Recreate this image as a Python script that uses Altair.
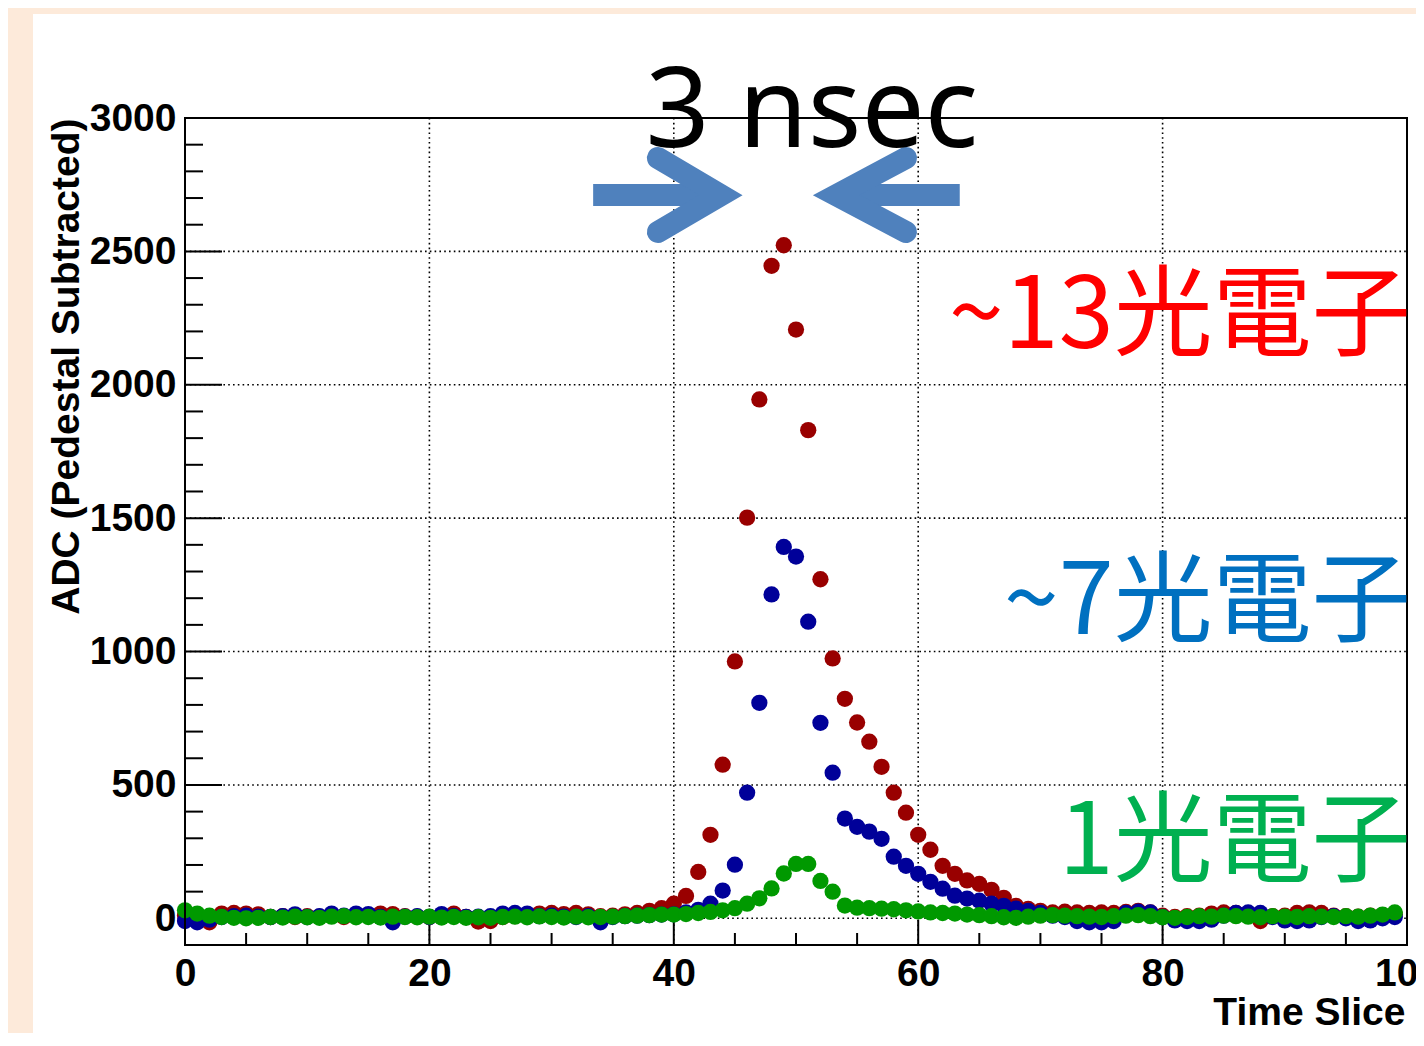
import altair as alt
import pandas as pd

# ---------------- data ----------------
time_slice = list(range(100))

red_adc = [10, 5, -15, 18, 20, 18, 15, 5, 8, 5,
           8, 6, 10, 5, 12, 10, 18, 16, 8, 6,
           5, 8, 18, 5, -12, -10, 5, 8, 10, 18,
           20, 16, 20, 15, 8, 10, 15, 20, 28, 38,
           55, 84, 174, 313, 576, 963, 1502, 1945, 2446, 2523,
           2207, 1830, 1271, 974, 823, 734, 662, 568, 471, 396,
           313, 257, 197, 167, 142, 129, 107, 77, 47, 35,
           28, 22, 25, 22, 20, 22, 20, 24, 28, 22,
           10, 5, 8, 10, 18, 22, 20, 12, -10, 8,
           10, 20, 22, 20, 10, 8, 6, 10, 12, 15]

blue_adc = [-10, -15, -5, 5, 8, 10, 6, 5, 8, 15,
            5, 8, 18, 10, 18, 16, 5, -15, 6, 8,
            5, 16, 8, 5, 6, 8, 18, 20, 18, 8,
            10, 6, 5, 8, -15, 5, 8, 10, 12, 14,
            15, 22, 32, 55, 104, 201, 471, 808, 1214, 1392,
            1356, 1112, 733, 546, 374, 343, 325, 298, 231, 197,
            167, 137, 111, 85, 74, 66, 55, 47, 36, 28,
            20, 10, 5, -10, -15, -15, -10, 20, 25, 22,
            5, -8, -10, -10, -5, 10, 20, 22, 20, 5,
            -8, -10, -8, 5, 8, 0, -10, -8, 0, 5]

green_adc = [30, 18, 10, 5, 2, 0, 2, 5, 3, 6,
             4, 2, 6, 8, 4, 5, 3, 6, 5, 4,
             6, 3, 5, 2, 4, 2, 5, 6, 4, 7,
             5, 3, 6, 4, 5, 6, 8, 10, 12, 14,
             14, 16, 20, 24, 30, 38, 55, 75, 112, 168,
             204, 204, 140, 100, 48, 40, 38, 36, 34, 30,
             26, 22, 20, 18, 14, 12, 8, 4, 2, 6,
             10, 12, 10, 8, 6, 5, 8, 10, 12, 8,
             4, 2, 5, 8, 6, 10, 8, 6, 4, 8,
             6, 5, 8, 6, 5, 8, 6, 10, 14, 22]

x_major_ticks = [0, 20, 40, 60, 80, 100]
x_minor_ticks = [v for v in range(0, 101, 5) if v % 20 != 0]
y_major_ticks = [0, 500, 1000, 1500, 2000, 2500, 3000]
y_minor_ticks = [v for v in range(0, 3001, 100) if v % 500 != 0]
x_grid = [20, 40, 60, 80]
y_grid = [0, 500, 1000, 1500, 2000, 2500]

labels_text = ["~13光電子", "~7光電子", "1光電子"]
labels_y = [2136, 1067, 167]
labels_color = ["#FF0000", "#0070C0", "#00B050"]

title_text = "3 nsec"

# arrows (data coordinates)
arrow_shaft_x = [33.4, 43.0, 63.4, 54.0]
arrow_shaft_y = [2711, 2711, 2711, 2711]
arrow_shaft_id = ["r", "r", "l", "l"]
arrow_head_x = [38.7, 43.85, 38.7, 59.0, 53.3, 59.0]
arrow_head_y = [2850, 2711, 2573, 2850, 2711, 2573]
arrow_head_id = ["r", "r", "r", "l", "l", "l"]

# ---------------- layout ----------------
W, H = 1222, 827
FONT = "Liberation Sans"
FS = 39
xs = alt.Scale(domain=[0, 100], nice=False, zero=False)
ys = alt.Scale(domain=[-100, 3000], nice=False, zero=False)

x_axis = alt.Axis(
    values=x_major_ticks, format="d", grid=False, ticks=False, domain=False,
    labelFont=FONT, labelFontWeight="bold", labelFontSize=FS, labelColor="black",
    labelPadding=9, labelFlush=False, labelOverlap=False, labelBound=False,
    title="Time Slice", titleFont=FONT, titleFontWeight="bold", titleFontSize=FS,
    titleColor="black", titleX=W - 2, titleY=67, titleAlign="right", titleBaseline="middle",
    zindex=1,
)
y_axis = alt.Axis(
    values=y_major_ticks, format="d", grid=False, ticks=False, domain=False,
    labelFont=FONT, labelFontWeight="bold", labelFontSize=FS, labelColor="black",
    labelPadding=9, labelFlush=False, labelOverlap=False, labelBound=False,
    title="ADC (Pedestal Subtracted)", titleFont=FONT, titleFontWeight="bold",
    titleFontSize=FS, titleColor="black", titleAngle=270, titleX=-119, titleY=0,
    titleAlign="right", titleBaseline="middle", zindex=1,
)


def X(field):
    return alt.X(field, scale=xs, axis=x_axis)


def Y(field):
    return alt.Y(field, scale=ys, axis=y_axis)


one = pd.DataFrame({"a": [0]})

bg = alt.Chart(one).mark_rect(color="white").encode(
    x=alt.value(-152), x2=alt.value(W + 30), y=alt.value(-104), y2=alt.value(H + 100)
)

grid_x = alt.Chart(pd.DataFrame({"x": x_grid})).mark_rule(
    color="black", strokeWidth=1.6, strokeDash=[1.6, 3.2]
).encode(x=X("x:Q"), y=alt.value(0), y2=alt.value(H))

grid_y = alt.Chart(pd.DataFrame({"y": y_grid})).mark_rule(
    color="black", strokeWidth=1.6, strokeDash=[1.6, 3.2]
).encode(y=Y("y:Q"), x=alt.value(0), x2=alt.value(W))

tick_xM = alt.Chart(pd.DataFrame({"x": x_major_ticks})).mark_rule(color="black", strokeWidth=2).encode(
    x=X("x:Q"), y=alt.value(H), y2=alt.value(H - 25))
tick_xm = alt.Chart(pd.DataFrame({"x": x_minor_ticks})).mark_rule(color="black", strokeWidth=2).encode(
    x=X("x:Q"), y=alt.value(H), y2=alt.value(H - 12))
tick_yM = alt.Chart(pd.DataFrame({"y": y_major_ticks})).mark_rule(color="black", strokeWidth=2).encode(
    y=Y("y:Q"), x=alt.value(0), x2=alt.value(37))
tick_ym = alt.Chart(pd.DataFrame({"y": y_minor_ticks})).mark_rule(color="black", strokeWidth=2).encode(
    y=Y("y:Q"), x=alt.value(0), x2=alt.value(18))


def series_layer(vals, color):
    df = pd.DataFrame({"slice": time_slice, "adc": vals})
    return alt.Chart(df).mark_circle(size=265, opacity=1, color=color).encode(
        x=X("slice:Q"), y=Y("adc:Q"))


red_layer = series_layer(red_adc, "#990000")
blue_layer = series_layer(blue_adc, "#000099")
green_layer = series_layer(green_adc, "#009900")

frame = alt.Chart(one).mark_rect(fillOpacity=0, stroke="black", strokeWidth=2).encode(
    x=alt.value(0), x2=alt.value(W), y=alt.value(0), y2=alt.value(H))

shaft_df = pd.DataFrame({"x": arrow_shaft_x, "y": arrow_shaft_y, "id": arrow_shaft_id,
                         "o": list(range(len(arrow_shaft_x)))})
head_df = pd.DataFrame({"x": arrow_head_x, "y": arrow_head_y, "id": arrow_head_id,
                        "o": list(range(len(arrow_head_x)))})
shafts = alt.Chart(shaft_df).mark_line(color="#4F81BD", strokeWidth=22, strokeCap="butt").encode(
    x=X("x:Q"), y=Y("y:Q"), detail="id:N", order="o:Q")
heads = alt.Chart(head_df).mark_line(color="#4F81BD", strokeWidth=22, strokeCap="round",
                                     strokeJoin="miter", strokeMiterLimit=10).encode(
    x=X("x:Q"), y=Y("y:Q"), detail="id:N", order="o:Q")

title_df = pd.DataFrame({"t": [title_text], "x": [51.3], "y": [2893]})
title = alt.Chart(title_df).mark_text(font="Noto Sans", fontSize=112, color="black",
                                      align="center", baseline="alphabetic").encode(
    x=X("x:Q"), y=Y("y:Q"), text="t:N")

lab_df = pd.DataFrame({"t": labels_text, "y": labels_y, "c": labels_color, "x": [100.3] * 3})
labels = alt.Chart(lab_df).mark_text(font="Noto Sans CJK JP", fontSize=99, align="right",
                                     baseline="alphabetic").encode(
    x=X("x:Q"), y=Y("y:Q"), text="t:N", color=alt.Color("c:N", scale=None))

chart = alt.layer(
    bg, grid_x, grid_y, tick_xM, tick_xm, tick_yM, tick_ym,
    red_layer, blue_layer, green_layer, frame, shafts, heads, title, labels
).properties(
    width=W, height=H,
    autosize=alt.AutoSizeParams(type="none"),
    padding={"left": 177, "top": 110, "right": 9, "bottom": 88},
    background="#FDEADA",
).configure_view(stroke=None)

chart.save("out.html", embed_options={"renderer": "svg", "actions": False})
